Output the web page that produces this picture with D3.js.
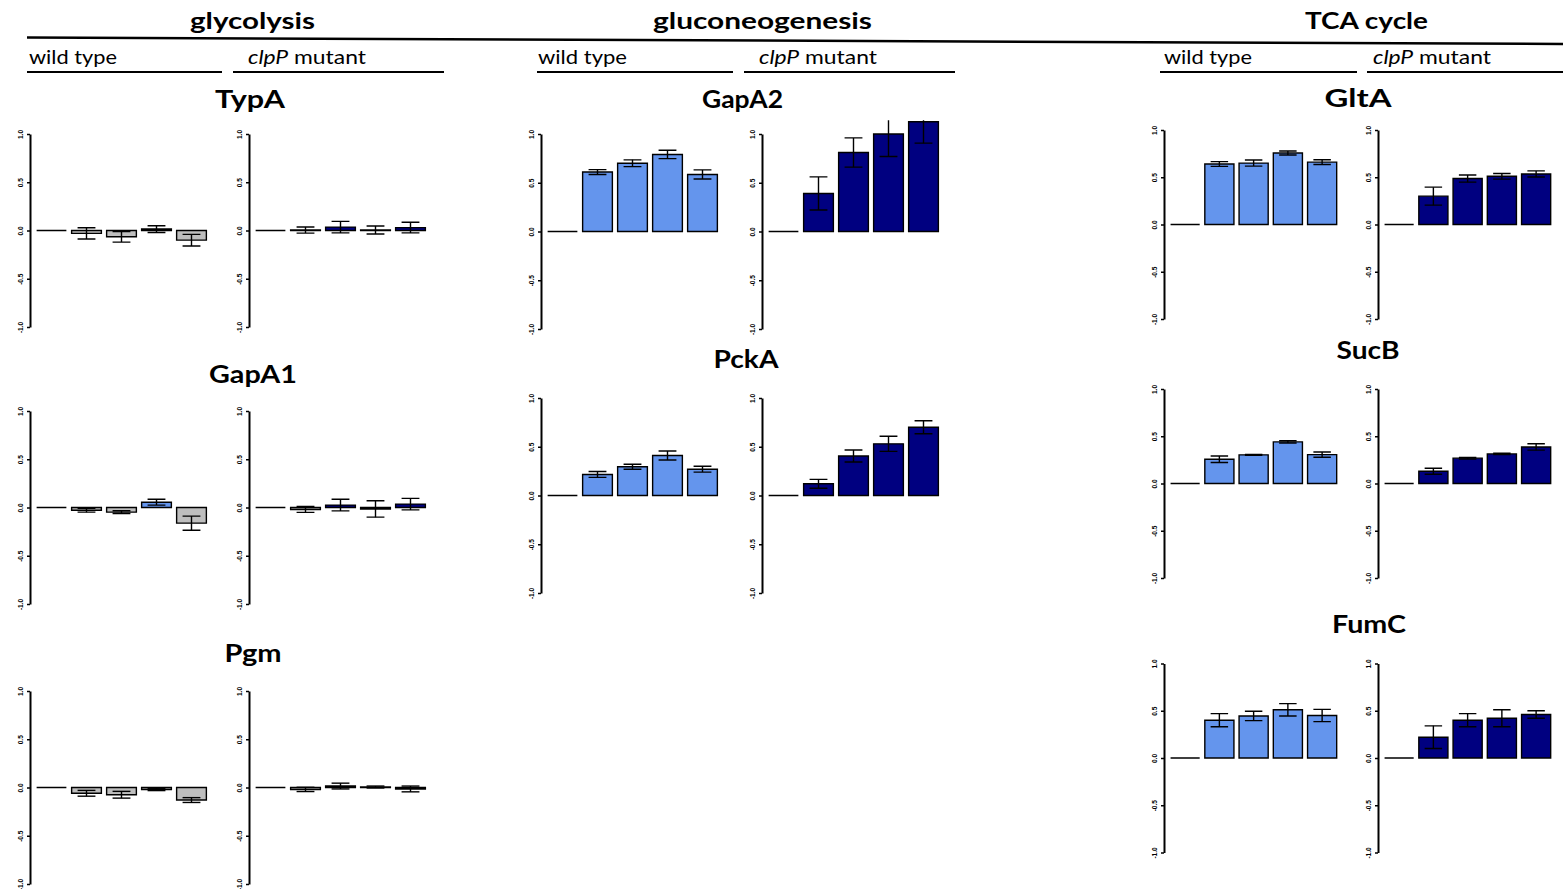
<!DOCTYPE html>
<html>
<head>
<meta charset="utf-8">
<script src="https://cdn.jsdelivr.net/npm/d3@7"></script>
<style>
  body { margin: 0; background: #fff; }
  svg { display: block; }
</style>
</head>
<body>
<div id="chart"></div>
<script>
// pathways, strains and the five sampling points (unlabelled in the figure)
var pathways = ["glycolysis", "gluconeogenesis", "TCA cycle"];
var strains = ["wild type", "clpP mutant"];
var timepoints = ["t1", "t2", "t3", "t4", "t5"];
var yTicks = [1.0, 0.5, 0.0, -0.5, -1.0];

var glycolysisProteins = ["TypA", "GapA1", "Pgm"];
var gluconeogenesisProteins = ["GapA2", "PckA"];
var tcaProteins = ["GltA", "SucB", "FumC"];

// mean log ratio, error and "changed" flag (1 = coloured bar)
var typA_wt = [0, -0.03, -0.065, 0.015, -0.10];
var typA_wt_err = [0, 0.058, 0.055, 0.035, 0.06];
var typA_wt_sig = [0, 0, 0, 0, 0];
var typA_mut = [0, 0.005, 0.035, 0.005, 0.03];
var typA_mut_err = [0, 0.032, 0.06, 0.042, 0.055];
var typA_mut_sig = [0, 0, 1, 0, 1];

var gapA1_wt = [0, -0.028, -0.048, 0.055, -0.162];
var gapA1_wt_err = [0, 0.02, 0.014, 0.03, 0.073];
var gapA1_wt_sig = [0, 0, 0, 1, 0];
var gapA1_mut = [0, -0.02, 0.025, -0.015, 0.035];
var gapA1_mut_err = [0, 0.03, 0.06, 0.085, 0.06];
var gapA1_mut_sig = [0, 0, 1, 0, 1];

var pgm_wt = [0, -0.06, -0.075, -0.02, -0.13];
var pgm_wt_err = [0, 0.03, 0.035, 0.012, 0.025];
var pgm_wt_sig = [0, 0, 0, 0, 0];
var pgm_mut = [0, -0.02, 0.015, 0.005, -0.015];
var pgm_mut_err = [0, 0.022, 0.03, 0.01, 0.03];
var pgm_mut_sig = [0, 0, 0, 0, 0];

var gapA2_wt = [0, 0.61, 0.70, 0.79, 0.585];
var gapA2_wt_err = [0, 0.025, 0.035, 0.043, 0.047];
var gapA2_wt_sig = [0, 1, 1, 1, 1];
var gapA2_mut = [0, 0.39, 0.81, 1.0, 1.126];
var gapA2_mut_err = [0, 0.17, 0.15, 0.23, 0.22];
var gapA2_mut_sig = [0, 1, 1, 1, 1];

var pckA_wt = [0, 0.216, 0.295, 0.41, 0.27];
var pckA_wt_err = [0, 0.03, 0.025, 0.046, 0.03];
var pckA_wt_sig = [0, 1, 1, 1, 1];
var pckA_mut = [0, 0.12, 0.405, 0.53, 0.70];
var pckA_mut_err = [0, 0.045, 0.062, 0.077, 0.066];
var pckA_mut_sig = [0, 1, 1, 1, 1];

var gltA_wt = [0, 0.64, 0.65, 0.757, 0.66];
var gltA_wt_err = [0, 0.025, 0.032, 0.021, 0.025];
var gltA_wt_sig = [0, 1, 1, 1, 1];
var gltA_mut = [0, 0.30, 0.486, 0.51, 0.535];
var gltA_mut_err = [0, 0.095, 0.038, 0.03, 0.032];
var gltA_mut_sig = [0, 1, 1, 1, 1];

var sucB_wt = [0, 0.257, 0.303, 0.44, 0.306];
var sucB_wt_err = [0, 0.034, 0.005, 0.012, 0.028];
var sucB_wt_sig = [0, 1, 1, 1, 1];
var sucB_mut = [0, 0.13, 0.268, 0.313, 0.387];
var sucB_mut_err = [0, 0.032, 0.008, 0.007, 0.034];
var sucB_mut_sig = [0, 1, 1, 1, 1];

var fumC_wt = [0, 0.40, 0.445, 0.51, 0.45];
var fumC_wt_err = [0, 0.07, 0.05, 0.065, 0.065];
var fumC_wt_sig = [0, 1, 1, 1, 1];
var fumC_mut = [0, 0.22, 0.40, 0.42, 0.46];
var fumC_mut_err = [0, 0.12, 0.07, 0.09, 0.04];
var fumC_mut_sig = [0, 1, 1, 1, 1];

var proteinData = {
  TypA:  [[typA_wt, typA_wt_err, typA_wt_sig], [typA_mut, typA_mut_err, typA_mut_sig]],
  GapA1: [[gapA1_wt, gapA1_wt_err, gapA1_wt_sig], [gapA1_mut, gapA1_mut_err, gapA1_mut_sig]],
  Pgm:   [[pgm_wt, pgm_wt_err, pgm_wt_sig], [pgm_mut, pgm_mut_err, pgm_mut_sig]],
  GapA2: [[gapA2_wt, gapA2_wt_err, gapA2_wt_sig], [gapA2_mut, gapA2_mut_err, gapA2_mut_sig]],
  PckA:  [[pckA_wt, pckA_wt_err, pckA_wt_sig], [pckA_mut, pckA_mut_err, pckA_mut_sig]],
  GltA:  [[gltA_wt, gltA_wt_err, gltA_wt_sig], [gltA_mut, gltA_mut_err, gltA_mut_sig]],
  SucB:  [[sucB_wt, sucB_wt_err, sucB_wt_sig], [sucB_mut, sucB_mut_err, sucB_mut_sig]],
  FumC:  [[fumC_wt, fumC_wt_err, fumC_wt_sig], [fumC_mut, fumC_mut_err, fumC_mut_sig]]
};

// layout of the three columns
var columns = [
  { name: pathways[0], proteins: glycolysisProteins, axisX: [30, 249], pitch: 35,
    titleX: 252.5, titleW: 125, sub: [[29, 88, 27, 222], [248, 118, 233, 444]] },
  { name: pathways[1], proteins: gluconeogenesisProteins, axisX: [541, 762], pitch: 35,
    titleX: 762.5, titleW: 219, sub: [[538, 89, 537, 733], [759, 118, 744, 955]] },
  { name: pathways[2], proteins: tcaProteins, axisX: [1164, 1378], pitch: 34.25,
    titleX: 1366.5, titleW: 123, sub: [[1164, 88, 1160, 1357], [1373, 118, 1367, 1563]] }
];

// vertical placement of each protein block: [y of 1.0, y of -1.0], title centre/baseline/width
var panelPos = {
  TypA:  { y: [134, 327], tx: 250, ty: 108, tw: 70 },
  GapA1: { y: [411, 604], tx: 253, ty: 383, tw: 88 },
  Pgm:   { y: [691, 884], tx: 253, ty: 662, tw: 57 },
  GapA2: { y: [134, 329], tx: 742.5, ty: 108, tw: 81 },
  PckA:  { y: [398, 593], tx: 746, ty: 368, tw: 65 },
  GltA:  { y: [130, 319], tx: 1358, ty: 107, tw: 67 },
  SucB:  { y: [389, 578], tx: 1368, ty: 359, tw: 63 },
  FumC:  { y: [663.5, 852.5], tx: 1369, ty: 633, tw: 74 }
};

var strainColor = [
  d3.scaleOrdinal().domain([0, 1]).range(["#bebebe", "#6495ed"]),
  d3.scaleOrdinal().domain([0, 1]).range(["#bebebe", "#000080"])
];

var svg = d3.select("#chart").append("svg")
  .attr("width", 1563)
  .attr("height", 889);

var titleFont = "Lato, 'Open Sans', sans-serif";

// long line under the pathway titles
svg.append("line")
  .attr("x1", 27).attr("y1", 37.5)
  .attr("x2", 1563).attr("y2", 44)
  .attr("stroke", "#000").attr("stroke-width", 2.5);

var clipId = 0;

columns.forEach(function(col) {
  svg.append("text")
    .attr("x", col.titleX - col.titleW / 2)
    .attr("y", 29)
    .attr("textLength", col.titleW)
    .attr("lengthAdjust", "spacingAndGlyphs")
    .attr("font-family", titleFont)
    .attr("font-weight", "bold")
    .attr("font-size", 22)
    .text(col.name);

  // strain headers
  col.sub.forEach(function(s, i) {
    var t = svg.append("text")
      .attr("x", s[0])
      .attr("y", 64)
      .attr("textLength", s[1])
      .attr("lengthAdjust", "spacingAndGlyphs")
      .attr("font-family", titleFont)
      .attr("font-size", 20);
    if (i == 0) {
      t.text(strains[0]);
    } else {
      t.append("tspan").attr("font-style", "italic").text("clpP");
      t.append("tspan").text(" mutant");
    }
    svg.append("line")
      .attr("x1", s[2]).attr("x2", s[3])
      .attr("y1", 72).attr("y2", 72)
      .attr("stroke", "#000").attr("stroke-width", 2);
  });

  col.proteins.forEach(function(prot) {
    var pos = panelPos[prot];

    svg.append("text")
      .attr("x", pos.tx - pos.tw / 2)
      .attr("y", pos.ty)
      .attr("textLength", pos.tw)
      .attr("lengthAdjust", "spacingAndGlyphs")
      .attr("font-family", titleFont)
      .attr("font-weight", "bold")
      .attr("font-size", 24)
      .text(prot);

    proteinData[prot].forEach(function(series, si) {
      var ax = col.axisX[si];
      var vals = series[0], errs = series[1], sig = series[2];

      var y = d3.scaleLinear().domain([-1, 1]).range([pos.y[1], pos.y[0]]);
      var x = d3.scaleBand()
        .domain(timepoints)
        .range([ax + 4, ax + 4 + 5 * col.pitch])
        .paddingInner(0.15)
        .paddingOuter(0.075);

      var rows = timepoints.map(function(t, i) {
        return { t: t, v: vals[i], e: errs[i], s: sig[i] };
      });

      var g = svg.append("g");

      // y axis with rotated labels
      var yAxis = d3.axisLeft(y)
        .tickValues(yTicks)
        .tickSize(3)
        .tickSizeOuter(0)
        .tickFormat(function(d) { return d.toFixed(1); });

      var axisG = g.append("g")
        .attr("transform", `translate(${ax}, 0)`)
        .call(yAxis);
      axisG.select(".domain").attr("stroke-width", 2);
      axisG.selectAll(".tick line").attr("stroke-width", 1.5);
      axisG.selectAll(".tick text")
        .attr("x", null)
        .attr("dy", null)
        .attr("transform", "translate(-7, 0) rotate(-90)")
        .attr("text-anchor", "middle")
        .attr("font-family", "'Liberation Sans', Arial, sans-serif")
        .attr("font-weight", "bold")
        .attr("font-size", 6.5);

      // plot region clip (tall bars get cut at the top)
      clipId++;
      svg.append("clipPath").attr("id", "clip" + clipId)
        .append("rect")
        .attr("x", ax + 1).attr("width", 5 * col.pitch + 10)
        .attr("y", y(1.14)).attr("height", y(-1.1) - y(1.14));

      var plot = g.append("g").attr("clip-path", `url(#clip${clipId})`);

      plot.selectAll("path.bar")
        .data(rows)
        .enter()
        .append("path")
        .attr("class", "bar")
        .attr("d", function(d) {
          var x0 = x(d.t), x1 = x(d.t) + x.bandwidth();
          return `M${x0},${y(0)}H${x1}V${y(d.v)}H${x0}Z`;
        })
        .attr("fill", d => strainColor[si](d.s))
        .attr("stroke", "#000")
        .attr("stroke-width", 1.4);

      var withErr = rows.filter(d => d.e > 0);
      var capW = x.bandwidth() * 0.3;

      plot.selectAll("line.err")
        .data(withErr)
        .enter()
        .append("line")
        .attr("class", "err")
        .attr("x1", d => x(d.t) + x.bandwidth() / 2)
        .attr("x2", d => x(d.t) + x.bandwidth() / 2)
        .attr("y1", d => y(d.v - d.e))
        .attr("y2", d => y(d.v + d.e))
        .attr("stroke", "#000")
        .attr("stroke-width", 1.4);

      [-1, 1].forEach(function(sign) {
        plot.selectAll(null)
          .data(withErr)
          .enter()
          .append("line")
          .attr("x1", d => x(d.t) + x.bandwidth() / 2 - capW)
          .attr("x2", d => x(d.t) + x.bandwidth() / 2 + capW)
          .attr("y1", d => y(d.v + sign * d.e))
          .attr("y2", d => y(d.v + sign * d.e))
          .attr("stroke", "#000")
          .attr("stroke-width", 1.4);
      });
    });
  });
});
</script>
</body>
</html>
